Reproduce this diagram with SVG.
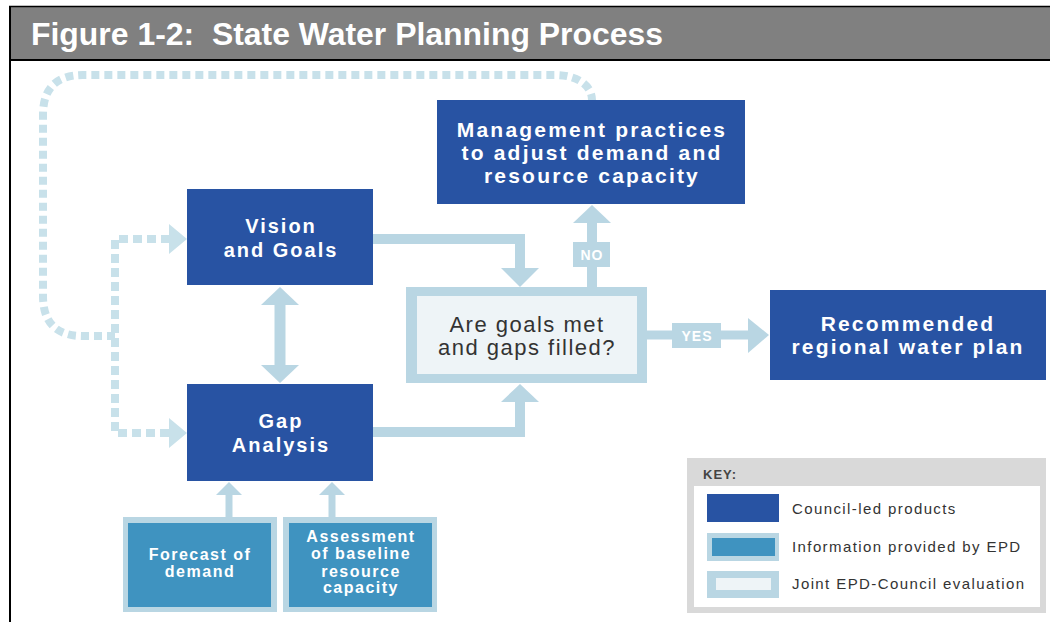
<svg xmlns="http://www.w3.org/2000/svg" width="1050" height="622" viewBox="0 0 1050 622">
<style>
.dark{fill:#2853a3}
.node{font-family:"Liberation Sans",Arial,sans-serif;font-weight:bold;fill:#fff;text-anchor:middle}
.n20{font-size:20px;letter-spacing:2px}
.n21{font-size:21px;letter-spacing:2.2px}
.n16{font-size:16px;letter-spacing:1.5px}
.lbl{font-family:"Liberation Sans",Arial,sans-serif;font-weight:bold;fill:#fff;font-size:14px;letter-spacing:1px;text-anchor:middle}
.conn{stroke:#b9d6e3;fill:none}
.head{fill:#b9d6e3}
.dash{stroke:#c8e1ea;fill:none;stroke-width:8}
.dhead{fill:#c8e1ea}
.key{font-family:"Liberation Sans",Arial,sans-serif;font-size:15px;fill:#333;letter-spacing:1.4px}
</style>
<rect x="0" y="0" width="1050" height="622" fill="#fff"/>
<g id="header">
<rect x="9" y="6" width="1041" height="54" fill="#808080"/>
<line x1="9" y1="6.5" x2="1050" y2="6.5" stroke="#000" stroke-width="1.5"/>
<line x1="9" y1="60" x2="1050" y2="60" stroke="#000" stroke-width="2"/>
<line x1="10" y1="6" x2="10" y2="622" stroke="#000" stroke-width="2"/>
<text x="31" y="45" xml:space="preserve" font-family="Liberation Sans,Arial,sans-serif" font-weight="bold" font-size="31" fill="#fff" textLength="632" lengthAdjust="spacingAndGlyphs">Figure 1-2:  State Water Planning Process</text>
</g>
<g id="connectors">
<path class="dash" stroke-dasharray="8 5" d="M115,336 L83,336 Q43,336 43,296 L43,115 Q43,75 83,75 L555,75 C578,75 592,86 592,100"/>
<path class="dash" stroke-dasharray="9 5" d="M170,239 L115,239 L115,433 L170,433"/>
<polygon class="dhead" points="169,224 187,239 169,254"/>
<polygon class="dhead" points="169,418 187,433 169,448"/>
<polyline class="conn" stroke-width="10" points="373,239 520,239 520,269"/>
<polygon class="head" points="501,268 539,268 520,287"/>
<polyline class="conn" stroke-width="10" points="373,432 520,432 520,401"/>
<polygon class="head" points="501,402 539,402 520,384"/>
<line class="conn" stroke-width="11" x1="280" y1="304" x2="280" y2="366"/>
<polygon class="head" points="261,305 299,305 280,287"/>
<polygon class="head" points="261,365 299,365 280,383"/>
<line class="conn" stroke-width="10" x1="592" y1="288" x2="592" y2="222"/>
<polygon class="head" points="573,223 611,223 592,205"/>
<rect x="573" y="242" width="37" height="25" class="head"/>
<text x="592" y="260" class="lbl">NO</text>
<line class="conn" stroke-width="9" x1="646" y1="335" x2="749" y2="335"/>
<polygon class="head" points="748,318 748,353 769,335"/>
<rect x="672" y="323" width="49" height="25" class="head"/>
<text x="697" y="341" class="lbl">YES</text>
<line class="conn" stroke-width="7" x1="229" y1="518" x2="229" y2="494"/>
<polygon class="head" points="216,495 242,495 229,482"/>
<line class="conn" stroke-width="7" x1="332" y1="518" x2="332" y2="494"/>
<polygon class="head" points="319,495 345,495 332,482"/>
</g>
<g id="vision">
<rect x="187" y="189" width="186" height="96" class="dark"/>
<text class="node n20" x="281" y="233">Vision</text>
<text class="node n20" x="281" y="257">and Goals</text>
</g>
<g id="gap">
<rect x="187" y="384" width="186" height="97" class="dark"/>
<text class="node n20" x="281" y="428">Gap</text>
<text class="node n20" x="281" y="452">Analysis</text>
</g>
<g id="management">
<rect x="437" y="100" width="308" height="104" class="dark"/>
<text class="node n21" x="592" y="137">Management practices</text>
<text class="node n21" x="592" y="160">to adjust demand and</text>
<text class="node n21" x="592" y="183">resource capacity</text>
</g>
<g id="decision">
<rect x="406" y="287" width="241" height="96" fill="#b9d6e3"/>
<rect x="417" y="296" width="220" height="78" fill="#eef4f7"/>
<text x="527" y="332" font-family="Liberation Sans,Arial,sans-serif" font-size="22" fill="#333" text-anchor="middle" letter-spacing="1.5">Are goals met</text>
<text x="527" y="355" font-family="Liberation Sans,Arial,sans-serif" font-size="22" fill="#333" text-anchor="middle" letter-spacing="1.5">and gaps filled?</text>
</g>
<g id="recommended">
<rect x="770" y="290" width="276" height="90" class="dark"/>
<text class="node n21" x="908" y="331">Recommended</text>
<text class="node n21" x="908" y="354">regional water plan</text>
</g>
<g id="forecast">
<rect x="123" y="517" width="154" height="95" fill="#b9d6e3"/>
<rect x="128" y="523" width="143" height="84" fill="#3f93c0"/>
<text class="node n16" x="200" y="560">Forecast of</text>
<text class="node n16" x="200" y="577">demand</text>
</g>
<g id="assessment">
<rect x="283" y="517" width="154" height="95" fill="#b9d6e3"/>
<rect x="289" y="523" width="143" height="84" fill="#3f93c0"/>
<text class="node n16" x="361" y="542">Assessment</text>
<text class="node n16" x="361" y="559">of baseline</text>
<text class="node n16" x="361" y="577">resource</text>
<text class="node n16" x="361" y="593">capacity</text>
</g>
<g id="key">
<rect x="687" y="458" width="359" height="155" fill="#d9d9d9"/>
<rect x="694" y="486" width="346" height="121" fill="#fff"/>
<text x="703" y="479" font-family="Liberation Sans,Arial,sans-serif" font-weight="bold" font-size="13" fill="#444" letter-spacing="1">KEY:</text>
<rect x="707" y="494" width="72" height="28" class="dark"/>
<rect x="707" y="533" width="72" height="28" fill="#b9d6e3"/>
<rect x="712" y="538" width="63" height="18" fill="#3f93c0"/>
<rect x="707" y="571" width="72" height="27" fill="#b9d6e3"/>
<rect x="716" y="578" width="55" height="12" fill="#eef4f7"/>
<text class="key" x="792" y="514">Council-led products</text>
<text class="key" x="792" y="552">Information provided by EPD</text>
<text class="key" x="792" y="589">Joint EPD-Council evaluation</text>
</g>
</svg>
